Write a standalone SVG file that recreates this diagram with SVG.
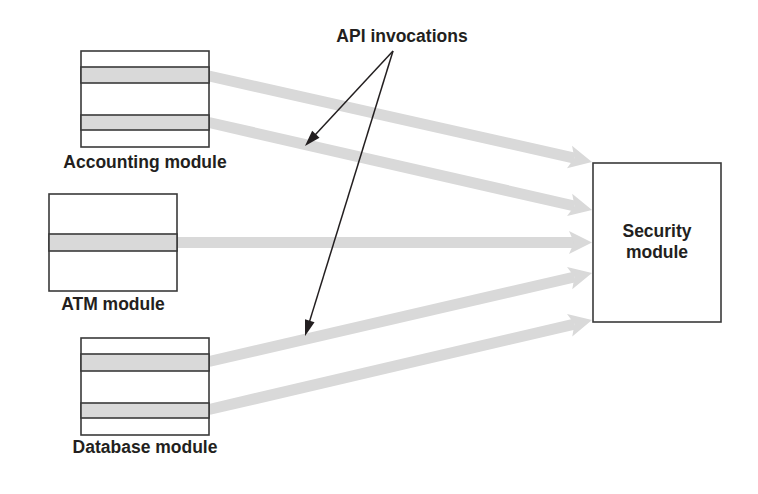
<svg xmlns="http://www.w3.org/2000/svg" width="758" height="494" viewBox="0 0 758 494">
<style>
.box{fill:#ffffff;stroke:#3a3a3a;stroke-width:1.6}
.band{fill:#d9d9d9;stroke:#3a3a3a;stroke-width:1.6}
.lbl{font-family:"Liberation Sans",Arial,sans-serif;font-weight:bold;font-size:17.5px;fill:#231f20;text-anchor:middle}
.flow{stroke:#d9d9d9;stroke-width:11;fill:none}
.ptr{stroke:#231f20;stroke-width:1.5;fill:none}
</style>
<defs>
<marker id="gh" viewBox="-6 -12 25 24" refX="0" refY="0" markerWidth="25" markerHeight="24" markerUnits="userSpaceOnUse" orient="auto">
<path d="M18,0 L-5,-11.5 L0,0 L-5,11.5 z" fill="#d9d9d9"/>
</marker>
<marker id="bh" viewBox="-9 -6 18 12" refX="0" refY="0" markerWidth="18" markerHeight="12" markerUnits="userSpaceOnUse" orient="auto">
<path d="M8,0 L-8,-5 L-8,5 z" fill="#231f20"/>
</marker>
</defs>
<rect width="758" height="494" fill="#ffffff"/>
<g id="connectors">
<line class="flow" x1="209" y1="76" x2="574.4" y2="158.1" marker-end="url(#gh)"/>
<line class="flow" x1="209" y1="122.5" x2="574.5" y2="206" marker-end="url(#gh)"/>
<line class="flow" x1="177" y1="242.5" x2="574" y2="242.5" marker-end="url(#gh)"/>
<line class="flow" x1="209" y1="361.5" x2="574.5" y2="277" marker-end="url(#gh)"/>
<line class="flow" x1="209" y1="409.5" x2="574.5" y2="324.1" marker-end="url(#gh)"/>
<line class="ptr" x1="393" y1="51" x2="310.4" y2="140.1" marker-end="url(#bh)"/>
<line class="ptr" x1="393" y1="51" x2="307.4" y2="328.4" marker-end="url(#bh)"/>
</g>
<g id="accounting">
<rect class="box" x="81" y="51" width="128" height="96"/>
<rect class="band" x="81" y="67" width="128" height="16"/>
<rect class="band" x="81" y="115" width="128" height="15"/>
<text class="lbl" x="145" y="168">Accounting module</text>
</g>
<g id="atm">
<rect class="box" x="49" y="194" width="128" height="97"/>
<rect class="band" x="49" y="234" width="128" height="17"/>
<text class="lbl" x="113" y="310">ATM module</text>
</g>
<g id="database">
<rect class="box" x="81" y="338" width="128" height="97"/>
<rect class="band" x="81" y="354" width="128" height="17"/>
<rect class="band" x="81" y="403" width="128" height="15"/>
<text class="lbl" x="145" y="453">Database module</text>
</g>
<g id="security">
<rect class="box" x="593" y="163" width="128" height="159"/>
<text class="lbl" x="657" y="237">Security</text>
<text class="lbl" x="657" y="258">module</text>
</g>
<g id="api-label">
<text class="lbl" x="402" y="42">API invocations</text>
</g>
</svg>
